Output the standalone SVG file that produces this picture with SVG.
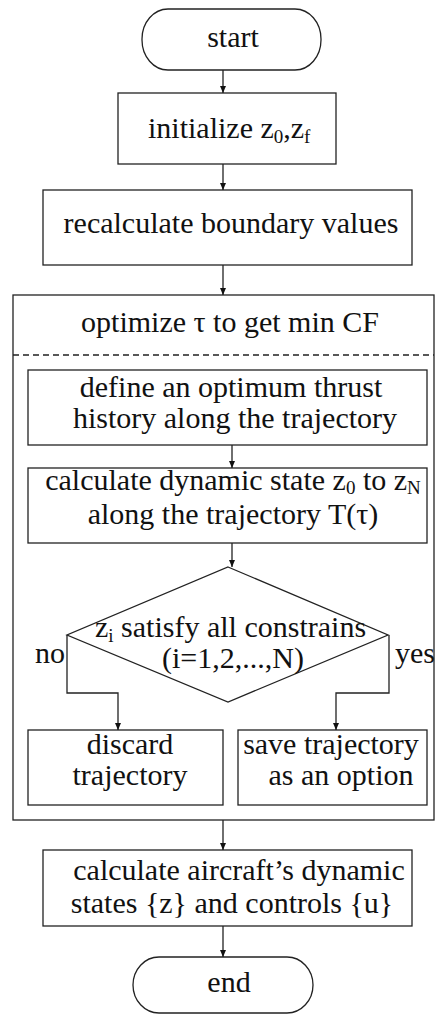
<svg xmlns="http://www.w3.org/2000/svg" width="435" height="1015" viewBox="0 0 435 1015">
<defs>
<marker id="ah" markerUnits="userSpaceOnUse" markerWidth="8" markerHeight="8" refX="7" refY="3" orient="auto">
<path d="M0,0 L7,3 L0,6 z" fill="#111"/>
</marker>
<style>
.s{fill:#fff;stroke:#222;stroke-width:1.3}
.t{font-family:'Liberation Serif','DejaVu Serif',serif;font-size:30px;fill:#111}
.m{text-anchor:middle}
.c{fill:none;stroke:#222;stroke-width:1.3}
.a{marker-end:url(#ah)}
.sub{font-size:19px}
</style>
</defs>
<rect width="435" height="1015" fill="#fff"/>
<g id="n-start">
<rect class="s" x="142" y="9" width="179" height="61" rx="26" ry="30"/>
<text class="t m" x="233" y="47">start</text>
</g>
<g id="n-init">
<rect class="s" x="118" y="93" width="218" height="71"/>
<text class="t" x="148" y="138">initialize z<tspan class="sub" dy="5">0</tspan><tspan dy="-5">,z</tspan><tspan class="sub" dy="5">f</tspan></text>
</g>
<g id="n-recalc">
<rect class="s" x="43" y="190" width="369" height="75"/>
<text class="t m" x="231" y="233">recalculate boundary values</text>
</g>
<g id="n-optimize">
<rect class="s" x="13" y="295" width="421" height="525"/>
<text class="t m" x="230" y="332">optimize τ to get min CF</text>
<line x1="13" y1="355" x2="434" y2="355" stroke="#222" stroke-width="1.3" stroke-dasharray="6,4"/>
</g>
<g id="n-define">
<rect class="s" x="28" y="370" width="399" height="75"/>
<text class="t m" x="231" y="397">define an optimum thrust</text>
<text class="t m" x="235" y="428">history along the trajectory</text>
</g>
<g id="n-dynstate">
<rect class="s" x="28" y="468" width="399" height="75"/>
<text class="t m" x="233" y="490">calculate dynamic state z<tspan class="sub" dy="4">0</tspan><tspan dy="-4"> to z</tspan><tspan class="sub" dy="4">N</tspan></text>
<text class="t m" x="233" y="524">along the trajectory T(τ)</text>
</g>
<g id="n-decision">
<polygon class="s" points="228,567 388,635 228,702 67,635"/>
<text class="t" x="95" y="637">z<tspan class="sub" dy="5">i</tspan><tspan dy="-5"> satisfy all constrains</tspan></text>
<text class="t m" x="233" y="668">(i=1,2,...,N)</text>
<text class="t" x="35" y="663">no</text>
<text class="t" x="395" y="663">yes</text>
</g>
<g id="n-discard">
<rect class="s" x="28" y="730" width="195" height="75"/>
<text class="t m" x="130" y="754">discard</text>
<text class="t m" x="130" y="785">trajectory</text>
</g>
<g id="n-save">
<rect class="s" x="238" y="730" width="189" height="75"/>
<text class="t m" x="331" y="754">save trajectory</text>
<text class="t m" x="341" y="785">as an option</text>
</g>
<g id="n-aircraft">
<rect class="s" x="43" y="850" width="369" height="76"/>
<text class="t m" x="239" y="880">calculate aircraft’s dynamic</text>
<text class="t m" x="232" y="913">states {z} and controls {u}</text>
</g>
<g id="n-end">
<rect class="s" x="133" y="957" width="180" height="56" rx="26" ry="28"/>
<text class="t m" x="229" y="992">end</text>
</g>
<g id="connectors">
<line class="c a" x1="223" y1="70" x2="223" y2="93"/>
<line class="c a" x1="223" y1="164" x2="223" y2="190"/>
<line class="c a" x1="223" y1="265" x2="223" y2="295"/>
<line class="c a" x1="232" y1="445" x2="232" y2="468"/>
<line class="c a" x1="232" y1="543" x2="232" y2="567"/>
<polyline class="c a" points="67,635 67,693 118,693 118,730"/>
<polyline class="c a" points="389,635 389,693 336,693 336,730"/>
<line class="c a" x1="223" y1="820" x2="223" y2="850"/>
<line class="c a" x1="223" y1="926" x2="223" y2="957"/>
</g>
</svg>
